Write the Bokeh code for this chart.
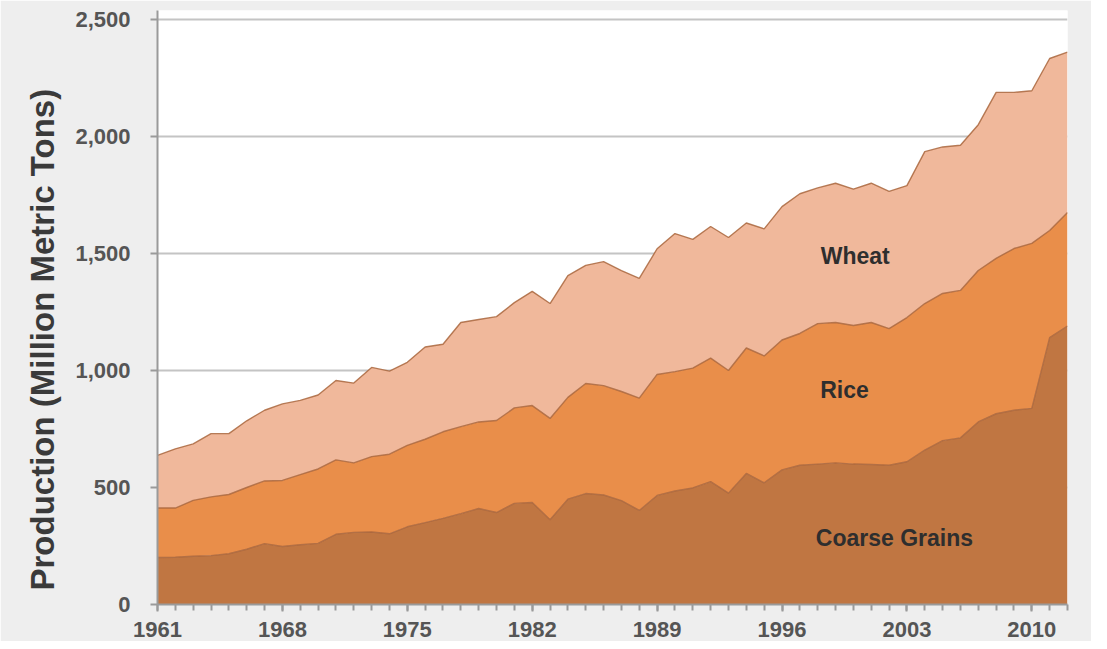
import numpy as np
from bokeh.plotting import figure
from bokeh.models import ColumnDataSource, Range1d, FixedTicker, NumeralTickFormatter, Label, Title
from bokeh.embed import file_html
from bokeh.resources import INLINE

# ---- data (million metric tons) ----
years = list(range(1961, 2013))
coarse_grains = [201, 202, 206, 209, 217, 236, 260, 248, 255, 261,
                 300, 308, 310, 302, 332, 350, 368, 388, 410, 393,
                 432, 436, 362, 450, 474, 468, 444, 402, 466, 485,
                 498, 525, 476, 560, 520, 575, 595, 600, 605, 600,
                 598, 595, 610, 660, 700, 712, 780, 815, 830, 838,
                 1140, 1190]
rice = [211, 210, 239, 251, 253, 264, 268, 282, 300, 318,
        318, 297, 322, 340, 348, 356, 370, 372, 370, 393,
        408, 414, 433, 435, 470, 467, 466, 480, 517, 510,
        512, 528, 524, 536, 542, 555, 563, 600, 600, 592,
        607, 584, 616, 626, 629, 630, 647, 664, 691, 705,
        458, 485]
wheat = [225, 253, 241, 270, 260, 285, 302, 327, 317, 316,
         339, 341, 381, 355, 355, 394, 374, 445, 438, 444,
         450, 488, 491, 520, 505, 530, 517, 511, 537, 590,
         550, 562, 568, 534, 543, 570, 597, 580, 595, 583,
         595, 586, 564, 649, 626, 620, 623, 709, 667, 652,
         735, 685]
series_names = ["Coarse Grains", "Rice", "Wheat"]
x_tick_years = [1961, 1968, 1975, 1982, 1989, 1996, 2003, 2010]
y_ticks = [0, 500, 1000, 1500, 2000, 2500]
y_axis_title = "Production (Million Metric Tons)"

fills = ["#c07642", "#e98e4a", "#f0b89b"]
edge = "#a9663d"

src = ColumnDataSource(dict(year=years, coarse=coarse_grains, rice=rice, wheat=wheat))

p = figure(width=1091, height=641, output_backend="svg", toolbar_location=None,
           x_range=Range1d(1961, 2012), y_range=Range1d(0, 2538),
           min_border_left=157, min_border_right=24, min_border_top=10, min_border_bottom=37,
           background_fill_color="white", border_fill_color="#eeeeee")
p.outline_line_color = None

p.varea_stack(["coarse", "rice", "wheat"], x="year", color=fills, source=src)
p.vline_stack(["coarse", "rice", "wheat"], x="year", color=edge, line_width=1.4,
              line_alpha=0.85, source=src)

# axes
p.xgrid.grid_line_color = None
p.ygrid.grid_line_color = "#c4c4c4"
p.ygrid.grid_line_width = 2
p.ygrid.ticker = FixedTicker(ticks=y_ticks)

p.yaxis.ticker = FixedTicker(ticks=y_ticks)
p.yaxis.formatter = NumeralTickFormatter(format="0,0")
p.xaxis.ticker = FixedTicker(ticks=x_tick_years, minor_ticks=years)

for ax in (p.xaxis, p.yaxis):
    ax.axis_line_color = "#9a9a9a"
    ax.axis_line_width = 2
    ax.major_tick_line_color = "#9a9a9a"
    ax.major_tick_line_width = 2
    ax.major_tick_in = 0
    ax.major_tick_out = 7
    ax.minor_tick_line_color = "#9a9a9a"
    ax.minor_tick_line_width = 2
    ax.minor_tick_in = 0
    ax.minor_tick_out = 6
    ax.major_label_text_font = "Liberation Sans"
    ax.major_label_text_font_size = "22px"
    ax.major_label_text_font_style = "bold"
    ax.major_label_text_color = "#555555"

p.yaxis.minor_tick_line_color = None
p.yaxis.major_label_standoff = 20

p.xaxis.major_label_standoff = 10

# y-axis title as a side title, starting near the bottom of the plot area
p.add_layout(Title(text=y_axis_title, align="left", offset=14, standoff=24,
                   text_font="Liberation Sans", text_font_size="33px",
                   text_font_style="bold", text_color="#3a3a3a"), "left")

label_pos = {"Wheat": (2000.1, 1491), "Rice": (1999.5, 915), "Coarse Grains": (2002.3, 286)}
for name in series_names:
    lx, ly = label_pos[name]
    p.add_layout(Label(x=lx, y=ly, text=name, text_align="center", text_baseline="middle",
                       text_font="Liberation Sans", text_font_size="23px",
                       text_font_style="bold", text_color="#2e2e2e"))

html = file_html(p, INLINE)
html = html.replace("<body>", '<body style="background:#eeeeee">', 1)
open("out.html", "w").write(html)
